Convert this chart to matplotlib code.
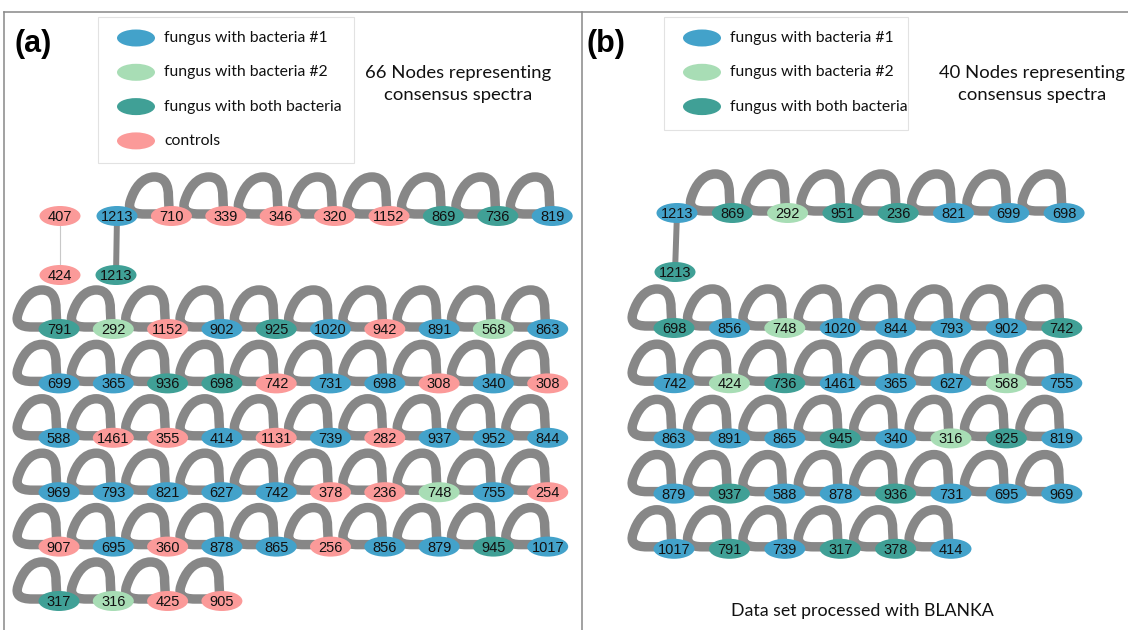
import matplotlib.pyplot as plt
from matplotlib.patches import Ellipse, PathPatch, Rectangle
from matplotlib.path import Path

# node groups: b1 = fungus with bacteria #1, b2 = bacteria #2, both, ctrl = controls
colors = {"b1": "#43A2CA", "b2": "#A8DDB5", "both": "#40A096", "ctrl": "#FB9A99"}
legend_names = {"b1": "fungus with bacteria #1", "b2": "fungus with bacteria #2",
                "both": "fungus with both bacteria", "ctrl": "controls"}

# ---- panel (a) ----
a_chain_labels = ["1213", "710", "339", "346", "320", "1152", "869", "736", "819"]
a_chain_groups = ["b1", "ctrl", "ctrl", "ctrl", "ctrl", "ctrl", "both", "both", "b1"]
a_pair_labels = ["407", "424"]
a_pair_groups = ["ctrl", "ctrl"]
a_link_label, a_link_group = "1213", "both"

a_grid_labels = [
    ["791", "292", "1152", "902", "925", "1020", "942", "891", "568", "863"],
    ["699", "365", "936", "698", "742", "731", "698", "308", "340", "308"],
    ["588", "1461", "355", "414", "1131", "739", "282", "937", "952", "844"],
    ["969", "793", "821", "627", "742", "378", "236", "748", "755", "254"],
    ["907", "695", "360", "878", "865", "256", "856", "879", "945", "1017"],
    ["317", "316", "425", "905"],
]
a_grid_groups = [
    ["both", "b2", "ctrl", "b1", "both", "b1", "ctrl", "b1", "b2", "b1"],
    ["b1", "b1", "both", "both", "ctrl", "b1", "b1", "ctrl", "b1", "ctrl"],
    ["b1", "ctrl", "ctrl", "b1", "ctrl", "b1", "ctrl", "b1", "b1", "b1"],
    ["b1", "b1", "b1", "b1", "b1", "ctrl", "ctrl", "b2", "b1", "ctrl"],
    ["ctrl", "b1", "ctrl", "b1", "b1", "ctrl", "b1", "b1", "both", "b1"],
    ["both", "b2", "ctrl", "ctrl"],
]

# ---- panel (b) ----
b_chain_labels = ["1213", "869", "292", "951", "236", "821", "699", "698"]
b_chain_groups = ["b1", "both", "b2", "both", "both", "b1", "b1", "b1"]
b_link_label, b_link_group = "1213", "both"

b_grid_labels = [
    ["698", "856", "748", "1020", "844", "793", "902", "742"],
    ["742", "424", "736", "1461", "365", "627", "568", "755"],
    ["863", "891", "865", "945", "340", "316", "925", "819"],
    ["879", "937", "588", "878", "936", "731", "695", "969"],
    ["1017", "791", "739", "317", "378", "414"],
]
b_grid_groups = [
    ["both", "b1", "b2", "b1", "b1", "b1", "b1", "both"],
    ["b1", "b2", "both", "b1", "b1", "b1", "b2", "b1"],
    ["b1", "b1", "b1", "both", "b1", "b2", "both", "b1"],
    ["b1", "both", "b1", "b1", "both", "b1", "b1", "b1"],
    ["b1", "both", "b1", "both", "both", "b1"],
]

EDGE = "#878787"
NODE_W, NODE_H = 41, 20

fig = plt.figure(figsize=(11.28, 6.3), dpi=100)
ax = fig.add_axes([0, 0, 1, 1])
ax.set_xlim(0, 1128)
ax.set_ylim(630, 0)
ax.axis("off")

# self-loop shape, offsets in pixels from node centre (y grows downward)
loop_verts = [(0, -2), (-27, -2),
              (-39, -2), (-44, -6), (-41, -15),
              (-37, -28), (-29, -39), (-17, -39),
              (-6, -39), (-3, -30), (-3, -20),
              (-2, 0)]
loop_codes = [Path.MOVETO, Path.LINETO,
              Path.CURVE4, Path.CURVE4, Path.CURVE4,
              Path.CURVE4, Path.CURVE4, Path.CURVE4,
              Path.CURVE4, Path.CURVE4, Path.CURVE4,
              Path.LINETO]


def self_loop(x, y):
    verts = [(x + dx, y + dy) for dx, dy in loop_verts]
    ax.add_patch(PathPatch(Path(verts, loop_codes), facecolor="none", edgecolor=EDGE,
                           lw=6.8, capstyle="butt", joinstyle="round", zorder=1))


def node(x, y, label, group, loop=False):
    if loop:
        self_loop(x, y)
    ax.add_patch(Ellipse((x, y), NODE_W, NODE_H, facecolor=colors[group],
                         edgecolor="none", zorder=3))
    ax.text(x, y + 1, label, ha="center", va="center", fontsize=10.5,
            family="Liberation Sans", color="#111111", zorder=4)


def grid(labels, groups, x0, y0, dx, dy):
    for r, (row_l, row_g) in enumerate(zip(labels, groups)):
        for c, (lab, grp) in enumerate(zip(row_l, row_g)):
            node(x0 + c * dx, y0 + r * dy, lab, grp, loop=True)


def chain(labels, groups, x0, y0, dx):
    for c, (lab, grp) in enumerate(zip(labels, groups)):
        node(x0 + c * dx, y0, lab, grp, loop=c > 0)


def legend(x0, y0, x1, y1, keys):
    ax.add_patch(Rectangle((x0, y0), x1 - x0, y1 - y0, facecolor="white",
                           edgecolor="#e2e2e2", lw=0.8, zorder=0))
    for i, k in enumerate(keys):
        yy = y0 + 21 + i * 34.3
        ax.add_patch(Ellipse((x0 + 38, yy), 38, 17, facecolor=colors[k],
                             edgecolor="none", zorder=3))
        ax.text(x0 + 66, yy, legend_names[k], ha="left", va="center",
                fontsize=11.3, family="Lato", color="#111111")


# frame lines
ax.plot([4, 1128], [12, 12], color="#888888", lw=1.1)
ax.plot([4, 4], [12, 630], color="#888888", lw=1.1)
ax.plot([582, 582], [12, 630], color="#888888", lw=1.1)

# panel (a)
ax.text(14, 44, "(a)", fontsize=22, fontweight="bold", family="Liberation Sans",
        ha="left", va="center")
legend(98, 17, 354, 163, ["b1", "b2", "both", "ctrl"])
ax.text(458, 84, "66 Nodes representing\nconsensus spectra", ha="center", va="center",
        fontsize=13.3, family="Lato", linespacing=1.4, color="#111111")
ax.plot([60, 60], [216, 275], color="#c8c8c8", lw=0.8, zorder=1)
ax.plot([117, 116], [216, 275], color=EDGE, lw=4.3, zorder=1)
node(60, 216, a_pair_labels[0], a_pair_groups[0])
node(60, 275, a_pair_labels[1], a_pair_groups[1])
node(116, 275, a_link_label, a_link_group)
chain(a_chain_labels, a_chain_groups, 117, 216, 54.4)
grid(a_grid_labels, a_grid_groups, 59, 329, 54.3, 54.4)

# panel (b)
ax.text(587, 44, "(b)", fontsize=22, fontweight="bold", family="Liberation Sans",
        ha="left", va="center")
legend(664, 17, 908, 130, ["b1", "b2", "both"])
ax.text(1032, 84, "40 Nodes representing\nconsensus spectra", ha="center", va="center",
        fontsize=13.3, family="Lato", linespacing=1.4, color="#111111")
ax.plot([677, 675], [213, 272], color=EDGE, lw=4.3, zorder=1)
node(675, 272, b_link_label, b_link_group)
chain(b_chain_labels, b_chain_groups, 677, 213, 55.3)
grid(b_grid_labels, b_grid_groups, 674, 328, 55.4, 55.2)
ax.text(862, 611, "Data set processed with BLANKA", ha="center", va="center",
        fontsize=12.8, family="Lato", color="#111111")

fig.savefig("out.png", dpi=100)
